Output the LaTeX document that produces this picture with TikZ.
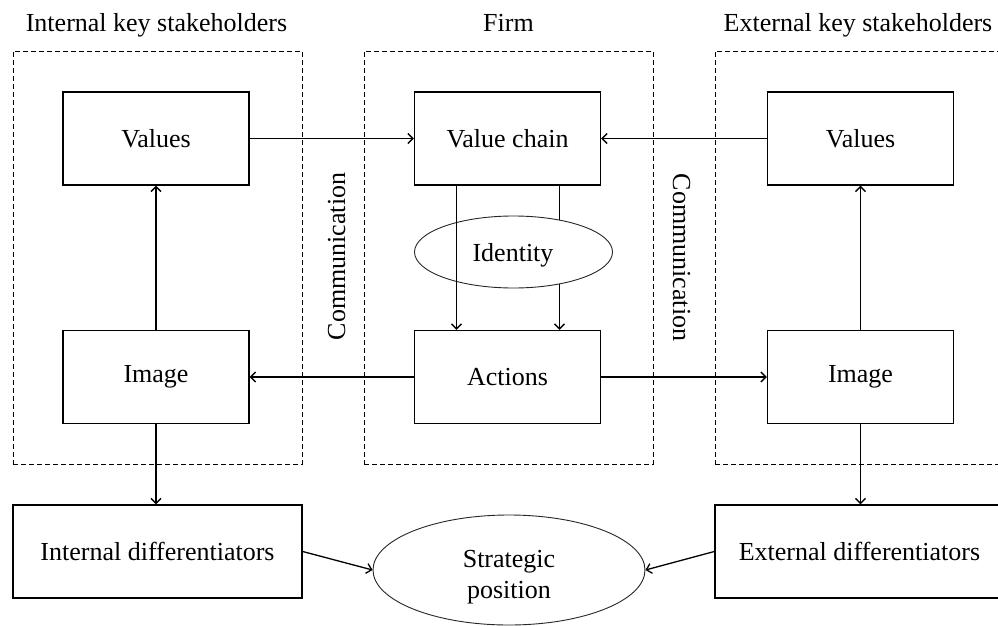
\documentclass[tikz,border=0pt]{standalone}
\usepackage{fontspec}
\setmainfont{Liberation Serif}
\usetikzlibrary{arrows.meta,shapes.geometric}
\begin{document}
\begin{tikzpicture}[x=1pt,y=-1pt,
  every node/.style={font=\fontsize{26}{30}\selectfont, text=black},
  box/.style={draw=black, line width=1.4pt, fill=white, minimum width=186pt, minimum height=93pt, inner sep=0pt},
  widebox/.style={box, minimum width=289pt},
  lane/.style={draw=black, line width=0.9pt, dash pattern=on 5pt off 3pt, minimum width=289pt, minimum height=413pt, inner sep=0pt},
  oval/.style={ellipse, draw=black!85, line width=0.9pt, fill=white, inner sep=0pt, align=center},
  title/.style={anchor=base},
  flow/.style={draw=black, line width=1.3pt, -{Straight Barb[length=5pt,width=10pt,line width=1.3pt]}}
]
\useasboundingbox (0,0) rectangle (998,626);
\clip (0,0) rectangle (998,626);

% column headings
\node[title] (tint) at (156.5,32) {Internal key stakeholders};
\node[title] (tfirm) at (508.5,32) {Firm};
\node[title] (text) at (858,32) {External key stakeholders};

% dashed group frames
\node[lane] (ilane) at (157.5,257.5) {};
\node[lane] (flane) at (508.5,257.5) {};
\node[lane] (elane) at (859.5,257.5) {};

% boxes
\node[box] (ivals) at (156,138.5) {Values};
\node[box] (iimg) at (156,377) {Image};
\node[box] (vchain) at (507.5,138.5) {Value chain};
\node[box] (actions) at (507.5,377) {Actions};
\node[box] (evals) at (860.5,138.5) {Values};
\node[box] (eimg) at (860.5,377) {Image};
\node[widebox] (idiff) at (157.5,551.5) {Internal differentiators};
\node[widebox] (ediff) at (859.5,551.5) {External differentiators};

% communication labels
\node[rotate=90] (comm1) at (336.7,256.5) {Communication};
\node[rotate=-90] (comm2) at (681.7,257.5) {Communication};

% firm internals: right arrow hidden behind the identity oval, left one in front
\draw[flow] ([xshift=52pt]vchain.south) -- ([xshift=52pt]actions.north);
\node[oval, minimum width=198pt, minimum height=72pt] (ident) at (513.5,252) {};
\node (identlbl) at (513,255) {Identity};
\draw[flow] ([xshift=-51pt]vchain.south) -- ([xshift=-51pt]actions.north);

% strategic position
\node[oval, minimum width=272pt, minimum height=110pt] (strat) at (509,570) {};
\node[align=center, font=\fontsize{26}{31}\selectfont] (stratlbl) at (509,577) {Strategic\\position};

% connectors
\draw[flow] (ivals.east) -- (vchain.west);
\draw[flow] (evals.west) -- (vchain.east);
\draw[flow] (actions.west) -- (iimg.east);
\draw[flow] (actions.east) -- (eimg.west);
\draw[flow] (iimg.north) -- (ivals.south);
\draw[flow] (eimg.north) -- (evals.south);
\draw[flow] (iimg.south) -- (iimg.south |- idiff.north);
\draw[flow] (eimg.south) -- (eimg.south |- ediff.north);
\draw[flow] (idiff.east) -- (strat.west);
\draw[flow] (ediff.west) -- (strat.east);
\end{tikzpicture}
\end{document}
